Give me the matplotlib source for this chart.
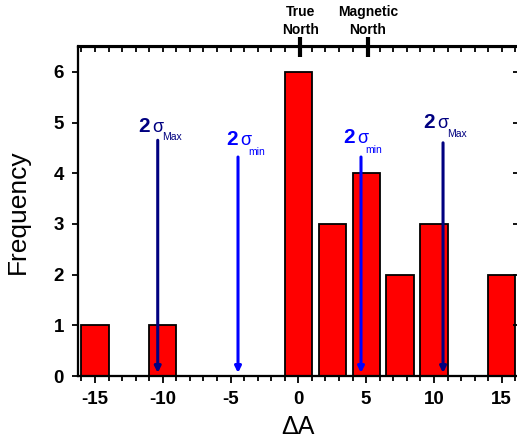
import matplotlib
matplotlib.use("Agg")
import matplotlib.pyplot as plt
from matplotlib.ticker import MultipleLocator, FixedLocator, NullFormatter

plt.rcParams['font.family'] = ['Liberation Sans', 'DejaVu Sans']

# Data
bin_centers = [-15, -10, 0, 2.5, 5, 7.5, 10, 15]
frequencies = [1, 1, 6, 3, 4, 2, 3, 2]
bar_width = 2.0

sigma_x = [-10.37, -4.45, 4.62, 10.67]
sigma_top = [4.65, 4.32, 4.32, 4.6]
sigma_sub = ['Max', 'min', 'min', 'Max']
sigma_colors = ['#000080', '#0000FF', '#0000FF', '#000080']

north_x = [0.15, 5.14]
north_labels = ['True\nNorth', 'Magnetic\nNorth']

xticks = [-15, -10, -5, 0, 5, 10, 15]
yticks = [0, 1, 2, 3, 4, 5, 6]

W, H = 517, 444
fig = plt.figure(figsize=(W / 100, H / 100), dpi=100)
ax = fig.add_axes([78 / W, 1 - 376 / H, 440.7 / W, 329.5 / H])

ax.bar(bin_centers, frequencies, width=bar_width, color='#FF0000',
       edgecolor='black', linewidth=1.3, zorder=2)

ax.set_xlim(-16.25, 16.25)
ax.set_ylim(0, 6.5)
ax.xaxis.set_major_locator(FixedLocator(xticks))
ax.xaxis.set_minor_locator(MultipleLocator(1))
ax.yaxis.set_major_locator(FixedLocator(yticks))
ax.set_xticklabels([str(v) for v in xticks])
ax.tick_params(axis='x', which='major', direction='out', length=5, width=1.3,
               labelsize=13.5, pad=6)
ax.tick_params(axis='x', which='minor', direction='out', length=3.5, width=1.3)
ax.tick_params(axis='y', which='major', direction='out', length=4, width=1.3,
               labelsize=13.5, pad=6)
for lab in ax.get_xticklabels() + ax.get_yticklabels():
    lab.set_fontweight('bold')
for s in ax.spines.values():
    s.set_linewidth(1.5)

ax.set_xlabel('ΔA', fontsize=18, labelpad=5)
ax.set_ylabel('Frequency', fontsize=19, labelpad=17)

# right axis ticks (inward)
axr = ax.twinx()
axr.set_ylim(ax.get_ylim())
axr.yaxis.set_major_locator(FixedLocator(yticks))
axr.yaxis.set_major_formatter(NullFormatter())
axr.tick_params(axis='y', direction='in', length=4, width=1.3)

# top axis ticks
axt = ax.twiny()
axt.set_xlim(ax.get_xlim())
axt.xaxis.set_major_locator(FixedLocator(north_x))
axt.xaxis.set_minor_locator(FixedLocator([v for v in range(-16, 17) if v not in (0, 5)]))
axt.xaxis.set_major_formatter(NullFormatter())
axt.tick_params(axis='x', which='major', direction='inout', length=14, width=3)
axt.tick_params(axis='x', which='minor', direction='in', length=3.5, width=1.3)
for s in list(axt.spines.values()) + list(axr.spines.values()):
    s.set_linewidth(1.5)

for xv, lab in zip(north_x, north_labels):
    ax.annotate(lab, xy=(xv, 1), xycoords=('data', 'axes fraction'),
                xytext=(0, 9), textcoords='offset pixels', ha='center',
                va='bottom', fontsize=10, fontweight='bold', linespacing=1.4,
                annotation_clip=False)

# sigma arrows
offsets = [
    # (dx2, dy2, dxsig, dxsub, dysub)
    (-19, 8, -5, 4, 0),
    (-12, 12, 2, 10, 2),
    (-18, 14, -4, 4, 4),
    (-20, 15, -6, 4, 6),
]
for xv, top, sub, col, off in zip(sigma_x, sigma_top, sigma_sub, sigma_colors, offsets):
    ax.annotate('', xy=(xv, 0.06), xytext=(xv, top),
                arrowprops=dict(arrowstyle='-|>', color=col, lw=2.2,
                                mutation_scale=9, shrinkA=0, shrinkB=0),
                zorder=3)
    dx2, dy2, dxs, dxsub, dysub = off
    ax.annotate('2', xy=(xv, top), xytext=(dx2, dy2), textcoords='offset pixels',
                ha='left', va='baseline', fontsize=15, fontweight='bold', color=col)
    ax.annotate('σ', xy=(xv, top), xytext=(dxs, dy2), textcoords='offset pixels',
                ha='left', va='baseline', fontsize=13, color=col)
    ax.annotate(sub, xy=(xv, top), xytext=(dxsub, dysub), textcoords='offset pixels',
                ha='left', va='baseline', fontsize=7.5, color=col)

fig.savefig('out.png', dpi=100)
